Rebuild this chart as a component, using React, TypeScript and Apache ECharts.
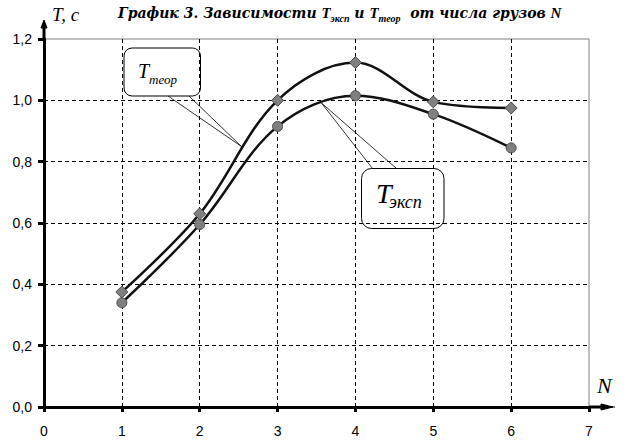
import React, { useEffect, useRef } from "react";
import * as echarts from "echarts";

const nValues = [1, 2, 3, 4, 5, 6];
const tTeor = [0.375, 0.63, 1.0, 1.123, 0.995, 0.975];
const tEksp = [0.34, 0.595, 0.915, 1.015, 0.955, 0.845];
const xTicks = { min: 0, max: 7, interval: 1 };
const yTicks = { min: 0, max: 1.2, interval: 0.2 };

const SERIF = "Liberation Serif";
const WIDE_SERIF = "DejaVu Serif";
const SANS = "Liberation Sans";

export default function App() {
  const ref = useRef<HTMLDivElement>(null);
  useEffect(() => {
    if (!ref.current) return;
    const chart = echarts.init(ref.current, null, { renderer: "svg" });
    const option: any = {
      animation: false,
      backgroundColor: "#ffffff",
      textStyle: { fontFamily: SANS },
      title: {
        left: 118,
        top: 3,
        padding: 0,
        text:
          "{b|График 3. Зависимости }{t|T}{s|эксп}{b| и }{t|T}{s|теор}{b|  от числа грузов }{t|N}",
        textStyle: {
          fontFamily: SERIF,
          rich: {
            b: {
              fontFamily: WIDE_SERIF,
              fontSize: 14,
              fontWeight: "bold",
              fontStyle: "italic",
              color: "#000",
              lineHeight: 20,
              verticalAlign: "middle",
            },
            t: {
              fontFamily: SERIF,
              fontSize: 15,
              fontStyle: "italic",
              color: "#000",
              lineHeight: 20,
              verticalAlign: "middle",
            },
            s: {
              fontFamily: SERIF,
              fontSize: 10,
              fontStyle: "italic",
              color: "#000",
              lineHeight: 10,
              verticalAlign: "bottom",
            },
          },
        },
      },
      grid: {
        left: 44,
        right: 36,
        top: 39,
        bottom: 38,
        show: true,
        borderColor: "#808080",
        borderWidth: 1,
        backgroundColor: "transparent",
      },
      xAxis: {
        type: "value",
        min: xTicks.min,
        max: xTicks.max,
        interval: xTicks.interval,
        axisLine: { show: true, onZero: false, lineStyle: { color: "#000", width: 3 } },
        axisTick: { show: true, length: 5, lineStyle: { color: "#000", width: 3 } },
        axisLabel: {
          margin: 17,
          fontFamily: SANS,
          fontSize: 14,
          color: "#000",
        },
        splitLine: {
          show: true,
          showMinLine: false,
          showMaxLine: false,
          lineStyle: { color: "#000", width: 1, type: [4, 3] },
        },
      },
      yAxis: {
        type: "value",
        min: yTicks.min,
        max: yTicks.max,
        interval: yTicks.interval,
        axisLine: { show: true, onZero: false, lineStyle: { color: "#000", width: 3 } },
        axisTick: { show: true, length: 6, lineStyle: { color: "#000", width: 3 } },
        axisLabel: {
          margin: 12,
          fontFamily: SANS,
          fontSize: 14,
          color: "#000",
          formatter: (v: number) => v.toFixed(1).replace(".", ","),
        },
        splitLine: {
          show: true,
          showMinLine: false,
          showMaxLine: false,
          lineStyle: { color: "#000", width: 1, type: [4, 3] },
        },
      },
      series: [
        {
          name: "Tтеор",
          type: "line",
          smooth: 0.35,
          data: nValues.map((n, i) => [n, tTeor[i]]),
          symbol: "diamond",
          symbolSize: 12,
          lineStyle: { color: "#111", width: 2.5 },
          itemStyle: { color: "#808080", borderColor: "#4a4a4a", borderWidth: 1 },
          z: 3,
        },
        {
          name: "Tэксп",
          type: "line",
          smooth: 0.35,
          data: nValues.map((n, i) => [n, tEksp[i]]),
          symbol: "circle",
          symbolSize: 10,
          lineStyle: { color: "#111", width: 2.5 },
          itemStyle: { color: "#808080", borderColor: "#4a4a4a", borderWidth: 1 },
          z: 3,
        },
      ],
    };
    chart.setOption(option);

    const [x0, y0] = chart.convertToPixel({ gridIndex: 0 }, [0, 0]) as number[];
    const [x7, yTop] = chart.convertToPixel({ gridIndex: 0 }, [7, 1.2]) as number[];
    const thin = { stroke: "#000", lineWidth: 0.8, fill: "none" };
    const txt = (text: string, x: number, y: number, size: number) => ({
      type: "text",
      x,
      y,
      style: { text, fontFamily: SERIF, fontStyle: "italic", fontSize: size, fill: "#000", verticalAlign: "middle" },
      z: 10,
    });
    const graphic: any[] = [
      { type: "line", shape: { x1: x0, y1: yTop, x2: x0, y2: yTop - 13 }, style: { stroke: "#000", lineWidth: 3 }, z: 10 },
      {
        type: "polygon",
        shape: { points: [[x0 - 3, yTop - 11], [x0, yTop - 19], [x0 + 3, yTop - 11]] },
        style: { fill: "#000", stroke: "#000", lineWidth: 1 },
        z: 10,
      },
      { type: "line", shape: { x1: x7, y1: y0, x2: x7 + 14, y2: y0 }, style: { stroke: "#000", lineWidth: 3 }, z: 10 },
      { type: "line", shape: { x1: x7 + 14, y1: y0, x2: x7 + 26, y2: y0 }, style: { stroke: "#000", lineWidth: 1 }, z: 10 },
      {
        type: "polygon",
        shape: { points: [[x7 + 12, y0 - 3], [x7 + 24, y0], [x7 + 12, y0 + 3]] },
        style: { fill: "#000", stroke: "#000", lineWidth: 1 },
        z: 10,
      },
      txt("T, c", 52, 14, 19),
      txt("N", 597, 385, 22),
      { type: "polyline", shape: { points: [[168, 96], [241.5, 146.5], [189, 96]] }, style: thin, z: 9 },
      {
        type: "rect",
        shape: { x: 124, y: 48, width: 76.5, height: 48, r: 8 },
        style: { fill: "none", stroke: "#000", lineWidth: 1 },
        z: 9,
      },
      txt("T", 138, 70.5, 20),
      txt("теор", 149, 79, 13),
      { type: "polyline", shape: { points: [[372.5, 168.5], [321.5, 103], [396.5, 168.5]] }, style: thin, z: 9 },
      {
        type: "rect",
        shape: { x: 361.5, y: 168.5, width: 82.5, height: 60, r: 10 },
        style: { fill: "none", stroke: "#000", lineWidth: 1 },
        z: 9,
      },
      txt("T", 376, 193, 28),
      txt("эксп", 389, 202, 18),
    ];
    chart.setOption({ graphic });

    return () => chart.dispose();
  }, []);
  return (
    <div
      ref={ref}
      style={{ position: "absolute", left: 0, top: 0, width: 625, height: 445 }}
    />
  );
}
